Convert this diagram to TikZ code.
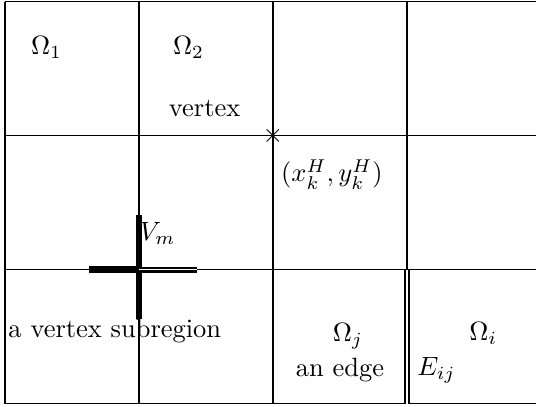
\documentclass[tikz,border=0pt]{standalone}
\usetikzlibrary{positioning}

\begin{document}
\begin{tikzpicture}[
  x=1.78cm, y=1.78cm,
  % === Line styles ===
  gridline/.style={line width=0.6pt, black},
  subline/.style={line width=2.4pt, black},
  edgeline/.style={double=white, double distance=0.45pt, line width=0.9pt, black},
  % === Label styles ===
  lbl/.style={font=\normalsize, inner sep=1pt},
]

\useasboundingbox (-0.037,-0.022) rectangle (3.963,3.012);

% =============================================
% Subdomain grid
% =============================================
\foreach \i in {0,1,2,3} {
  \draw[gridline] (\i,0) -- (\i,3);
}
\foreach \j in {0,1,2,3} {
  \draw[gridline] (0,\j) -- (3.963,\j);
}

% =============================================
% Subdomain labels
% =============================================
\node[lbl] (om1) at (0.31,2.66) {$\Omega_1$};
\node[lbl] (om2) at (1.37,2.66) {$\Omega_2$};
\node[lbl] (omj) at (2.56,0.50) {$\Omega_j$};
\node[lbl] (omi) at (3.57,0.52) {$\Omega_i$};

% =============================================
% Vertex and coarse point
% =============================================
\node[inner sep=0pt] (vtx) at (2,2) {$\times$};
\node[lbl] (vlbl) at (1.49,2.20) {vertex};
\node[lbl] (xk) at (2.44,1.71) {$(x_k^H,y_k^H)$};

% =============================================
% Vertex subregion V_m
% =============================================
\coordinate (vm) at (1,1);
\draw[subline] ([yshift=-0.37cm*1.78]vm) -- ([yshift=0.41cm*1.78]vm);
\draw[subline] ([xshift=-0.37cm*1.78]vm) -- (vm);
\draw[edgeline] (vm) -- ([xshift=0.43cm*1.78]vm);
\node[lbl] (vmlbl) at (1.14,1.27) {$V_m$};
\node[lbl] (vsub) at (0.82,0.54) {a vertex subregion};

% =============================================
% Edge E_ij
% =============================================
\coordinate (ebot) at (3,0);
\coordinate (etop) at (3,1);
\draw[edgeline] (ebot) -- (etop);
\node[lbl] (elbl) at (2.50,0.25) {an edge};
\node[lbl] (eij) at (3.22,0.25) {$E_{ij}$};

\end{tikzpicture}
\end{document}
